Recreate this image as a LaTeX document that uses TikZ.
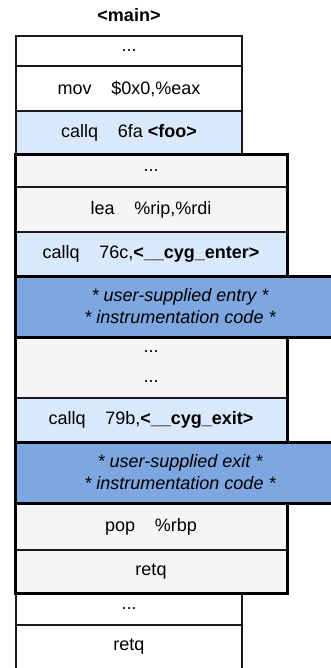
\documentclass[tikz,border=0pt]{standalone}
\usepackage{fontspec}
\setmainfont{Liberation Sans}
\definecolor{lblue}{HTML}{DAE8FC}
\definecolor{lgray}{HTML}{F5F5F5}
\definecolor{ibluef}{HTML}{7EA6E0}
\definecolor{edge}{HTML}{1A1A1A}
\begin{document}
\begin{tikzpicture}[x=1pt,y=-1pt,
  every node/.style={font=\fontsize{18}{22}\selectfont},
  cell/.style={draw=edge, line width=1.3pt, rectangle, inner sep=0pt, outer sep=0pt, anchor=north west, align=center},
  thick/.style={draw=black, line width=3pt},
  instr/.style={cell, fill=ibluef, draw=black, line width=3pt, font=\fontsize{18}{22}\selectfont\itshape}]
\useasboundingbox (0,0) rectangle (331,668);
\clip (0,0) rectangle (331,668);
% title
\node[font=\fontsize{18}{22}\selectfont\bfseries] (title) at (129,15) {<main>};
% main column
\node[cell, fill=white, minimum width=226pt, minimum height=30pt] (m1) at (16,36) {...};
\node[cell, fill=white, minimum width=226pt, minimum height=45pt] (m2) at (16,66) {mov\hspace{1.1em}\$0x0,\%eax};
\node[cell, fill=lblue, minimum width=226pt, minimum height=44pt] (m3) at (16,111) {callq\hspace{1.1em}6fa \textbf{<foo>}};
\node[cell, fill=white, minimum width=226pt, minimum height=32pt] (m4) at (16,593) {...};
\node[cell, fill=white, minimum width=226pt, minimum height=60pt, anchor=north west] (m5) at (16,625) {};
\node (m5t) at (129,647) {retq};
% foo function rows
\node[cell, fill=lgray, minimum width=272pt, minimum height=32pt] (f1) at (15,155) {...};
\node[cell, fill=lgray, minimum width=272pt, minimum height=45pt] (f2) at (15,187) {lea\hspace{1.1em}\%rip,\%rdi};
\node[cell, fill=lblue, minimum width=272pt, minimum height=44pt] (f3) at (15,232) {callq\hspace{1.1em}76c,\textbf{<\_\_cyg\_enter>}};
\node[cell, fill=lgray, minimum width=272pt, minimum height=61pt] (f4) at (15,337) {};
\node (f4a) at (151,352) {...};
\node (f4b) at (151,382) {...};
\node[cell, fill=lblue, minimum width=272pt, minimum height=44pt] (f5) at (15,398) {callq\hspace{1.1em}79b,\textbf{<\_\_cyg\_exit>}};
\node[cell, fill=lgray, minimum width=272pt, minimum height=47pt] (f6) at (15,503) {pop\hspace{1.1em}\%rbp};
\node[cell, fill=lgray, minimum width=272pt, minimum height=43pt] (f7) at (15,550) {retq};
% foo thick frame
\draw[thick] (f1.north west) rectangle (f7.south east);
% instrumentation blocks
\node[instr, minimum width=330pt, minimum height=61pt] (i1) at (15,276) {* user-supplied entry *\\* instrumentation code *};
\node[instr, minimum width=330pt, minimum height=61pt] (i2) at (15,442) {* user-supplied exit *\\* instrumentation code *};
\end{tikzpicture}
\end{document}
